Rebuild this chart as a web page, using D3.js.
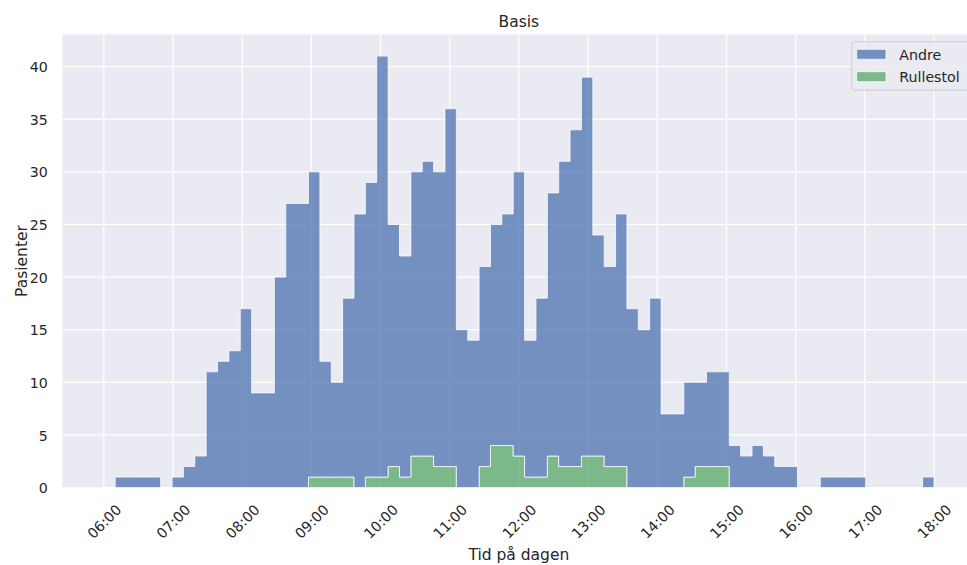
<!DOCTYPE html>
<html>
<head>
<meta charset="utf-8">
<script src="https://cdn.jsdelivr.net/npm/d3@7"></script>
<style>
  html, body { margin: 0; padding: 0; background: #ffffff; }
  svg { display: block; }
  text { font-family: "DejaVu Sans", sans-serif; fill: #262626; }
</style>
</head>
<body>
<svg id="chart" width="967" height="565"></svg>
<script>
// Histogram bins: 73 equal-width bins spanning 06:00 – 18:00
const binStart = "06:00";
const binEnd = "18:00";
const binCount = 73;

// Patients per bin, one value per bin (stacked: Rullestol at the bottom)
const andre = [
  0, 1, 1, 1, 1, 0, 1, 2, 3, 11, 12, 13, 17, 9, 9, 20, 27, 27, 29, 11,
  9, 17, 26, 28, 40, 23, 21, 27, 28, 28, 34, 15, 14, 19, 21, 22, 27, 13, 17, 25,
  29, 32, 36, 21, 19, 24, 17, 15, 18, 7, 7, 9, 8, 9, 9, 4, 3, 4, 3, 2,
  2, 0, 0, 1, 1, 1, 1, 0, 0, 0, 0, 0, 1
];
const rullestol = [
  0, 0, 0, 0, 0, 0, 0, 0, 0, 0, 0, 0, 0, 0, 0, 0, 0, 0, 1, 1,
  1, 1, 0, 1, 1, 2, 1, 3, 3, 2, 2, 0, 0, 2, 4, 4, 3, 1, 1, 3,
  2, 2, 3, 3, 2, 2, 0, 0, 0, 0, 0, 1, 2, 2, 2, 0, 0, 0, 0, 0,
  0, 0, 0, 0, 0, 0, 0, 0, 0, 0, 0, 0, 0
];

const seriesNames = ["Andre", "Rullestol"];
const seriesColors = { Andre: "#4C72B0", Rullestol: "#55A868" };
const yTicks = [0, 5, 10, 15, 20, 25, 30, 35, 40];
const xTickFormat = "%H:%M";

const titleText = "Basis";
const xLabelText = "Tid på dagen";
const yLabelText = "Pasienter";

// ---- layout ----
const W = 967, H = 565;
const plot = { left: 62.3, right: 975.5, top: 34.5, bottom: 487.6 };

const parseT = d3.utcParse("%H:%M");
const t0 = parseT(binStart), t1 = parseT(binEnd);
const span = t1 - t0;
const binWidth = span / binCount;
const pad = span * 0.05;

const x = d3.scaleUtc()
  .domain([new Date(+t0 - pad), new Date(+t1 + pad)])
  .range([plot.left, plot.right]);

const yMax = d3.max(andre.map((v, i) => v + rullestol[i])) * 1.05;
const y = d3.scaleLinear().domain([0, yMax]).range([plot.bottom, plot.top]);

const svg = d3.select("#chart");

svg.append("defs").append("clipPath").attr("id", "plotclip")
  .append("rect")
  .attr("x", plot.left).attr("y", plot.top)
  .attr("width", plot.right - plot.left).attr("height", plot.bottom - plot.top);

// axes background
svg.append("rect")
  .attr("x", plot.left).attr("y", plot.top)
  .attr("width", plot.right - plot.left).attr("height", plot.bottom - plot.top)
  .attr("fill", "#EAEAF2");

const hourTicks = x.ticks(d3.utcHour.every(1));

// grid
const grid = svg.append("g").attr("clip-path", "url(#plotclip)");
grid.selectAll("line.vg").data(hourTicks).join("line")
  .attr("class", "vg")
  .attr("x1", d => x(d)).attr("x2", d => x(d))
  .attr("y1", plot.top).attr("y2", plot.bottom)
  .attr("stroke", "#ffffff").attr("stroke-width", 1.25);
grid.selectAll("line.hg").data(yTicks).join("line")
  .attr("class", "hg")
  .attr("x1", plot.left).attr("x2", plot.right)
  .attr("y1", d => y(d)).attr("y2", d => y(d))
  .attr("stroke", "#ffffff").attr("stroke-width", 1.25);

// stacked step histogram
const rows = andre.map((v, i) => ({
  edge: new Date(+t0 + i * binWidth),
  Andre: v,
  Rullestol: rullestol[i]
}));
// closing edge repeats the last bin so the final step has width
rows.push({
  edge: new Date(+t1),
  Andre: andre[andre.length - 1],
  Rullestol: rullestol[rullestol.length - 1]
});

const stacked = d3.stack().keys(["Rullestol", "Andre"])(rows);

const area = d3.area()
  .curve(d3.curveStepAfter)
  .x(d => x(d.data.edge))
  .y0(d => y(d[0]))
  .y1(d => y(d[1]));

const marks = svg.append("g").attr("clip-path", "url(#plotclip)");
marks.selectAll("path").data(stacked).join("path")
  .attr("d", area)
  .attr("fill", d => seriesColors[d.key])
  .attr("fill-opacity", 0.75)
  .attr("stroke", "#ffffff")
  .attr("stroke-opacity", 0.75)
  .attr("stroke-width", 1)
  .attr("stroke-linejoin", "miter");

// y axis
const yAxis = svg.append("g")
  .attr("transform", `translate(${plot.left},0)`)
  .call(d3.axisLeft(y).tickValues(yTicks).tickSize(0).tickPadding(14.5));
yAxis.select(".domain").remove();
yAxis.selectAll("text")
  .style("font-size", "14.2px")
  .style("font-family", "DejaVu Sans")
  .attr("fill", "#262626")
  .attr("dy", "0.36em");

// x axis with rotated labels
const xAxis = svg.append("g")
  .attr("transform", `translate(0,${plot.bottom})`)
  .call(d3.axisBottom(x).tickValues(hourTicks).tickFormat(d3.utcFormat(xTickFormat)).tickSize(0));
xAxis.select(".domain").remove();
xAxis.selectAll("text")
  .style("font-size", "14.2px")
  .style("font-family", "DejaVu Sans")
  .attr("fill", "#262626")
  .attr("y", 0).attr("dy", 0)
  .attr("text-anchor", "middle")
  .attr("dominant-baseline", "central")
  .attr("transform", "translate(0,34) rotate(-45)");

// title and axis labels
const midX = (plot.left + plot.right) / 2;
svg.append("text")
  .attr("x", midX).attr("y", 26.5)
  .attr("text-anchor", "middle")
  .style("font-size", "15.5px")
  .text(titleText);

svg.append("text")
  .attr("x", midX).attr("y", 560)
  .attr("text-anchor", "middle")
  .style("font-size", "15.5px")
  .text(xLabelText);

svg.append("text")
  .attr("transform", `translate(26.5,${(plot.top + plot.bottom) / 2}) rotate(-90)`)
  .attr("text-anchor", "middle")
  .style("font-size", "15.5px")
  .text(yLabelText);

// legend
const lg = svg.append("g");
lg.append("rect")
  .attr("x", 851.7).attr("y", 41.7)
  .attr("width", 120).attr("height", 48.5)
  .attr("rx", 3).attr("ry", 3)
  .attr("fill", "#EAEAF2").attr("fill-opacity", 0.8)
  .attr("stroke", "#cccccc").attr("stroke-width", 1);

const items = lg.selectAll("g.item").data(seriesNames).join("g")
  .attr("class", "item")
  .attr("transform", (d, i) => `translate(0,${i * 22.4})`);
items.append("rect")
  .attr("x", 856.7).attr("y", 49.3)
  .attr("width", 29.3).attr("height", 10)
  .attr("fill", d => seriesColors[d]).attr("fill-opacity", 0.75)
  .attr("stroke", "#ffffff").attr("stroke-opacity", 0.75).attr("stroke-width", 1);
items.append("text")
  .attr("x", 899.3).attr("y", 59.6)
  .style("font-size", "14.2px")
  .text(d => d);
</script>
</body>
</html>
